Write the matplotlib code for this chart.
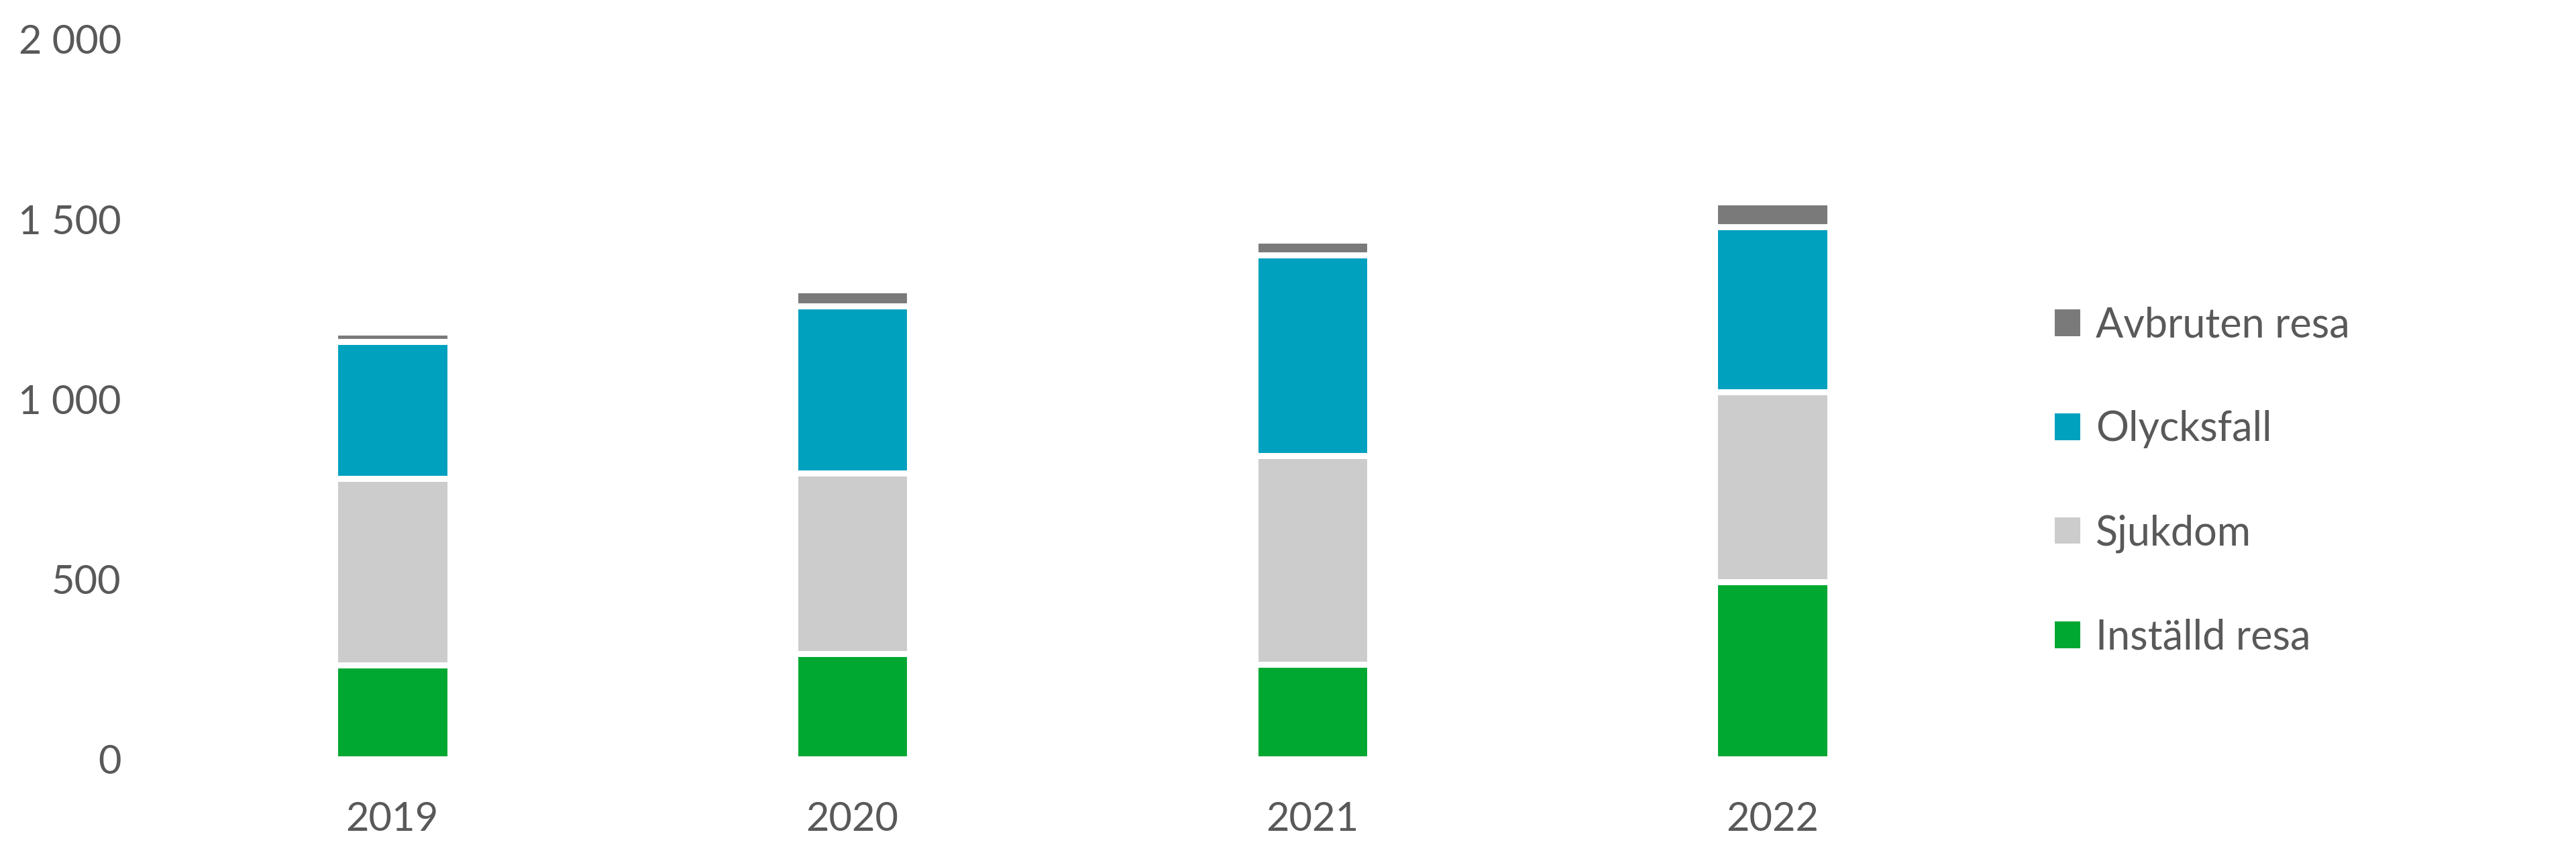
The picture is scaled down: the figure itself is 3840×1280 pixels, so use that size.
import matplotlib
matplotlib.use("Agg")
import matplotlib.pyplot as plt
from matplotlib.patches import Patch
from matplotlib.ticker import FuncFormatter
import numpy as np

# data
years = ["2019", "2020", "2021", "2022"]
installd = [262, 293, 263, 492]
sjukdom = [518, 502, 579, 528]
olycksfall = [379, 464, 558, 458]
avbruten = [27, 45, 42, 69]

labels = ["Inställd resa", "Sjukdom", "Olycksfall", "Avbruten resa"]
colors = ["#00a832", "#cccccc", "#00a0bf", "#7a7a7a"]
text_color = "#595959"

plt.rcParams["font.family"] = ["Lato", "DejaVu Sans"]

fig = plt.figure(figsize=(38.4, 12.8), dpi=100)
ax = fig.add_axes([0.063, 0.1164, 0.7143, 0.8379])

x = np.arange(len(years))
series = [installd, sjukdom, olycksfall, avbruten]
bottom = np.zeros(len(years))
for vals, col in zip(series, colors):
    ax.bar(x, vals, width=0.25, bottom=bottom, color=col,
           edgecolor="white", linewidth=6.5)
    bottom += np.array(vals)

ax.set_xlim(-0.5, len(years) - 0.5)
ax.set_ylim(0, 2000)
ax.set_yticks([0, 500, 1000, 1500, 2000])
ax.yaxis.set_major_formatter(FuncFormatter(lambda v, p: f"{int(v):,}".replace(",", " ")))
ax.set_xticks(x)
ax.set_xticklabels(years)

for s in ax.spines.values():
    s.set_visible(False)
ax.tick_params(axis="both", length=0, labelsize=43, colors=text_color)
ax.tick_params(axis="y", pad=44)
ax.tick_params(axis="x", pad=45)

handles = [Patch(facecolor=c, edgecolor="none") for c in colors]
fig.legend(handles[::-1], labels[::-1], loc="center left",
           bbox_to_anchor=(0.7977, 0.4395), frameon=False, fontsize=44,
           handlelength=0.62, handleheight=0.62, handletextpad=0.38,
           labelspacing=1.6, borderpad=0, borderaxespad=0,
           labelcolor=text_color)

fig.savefig("out.png", dpi=100, facecolor="white")
